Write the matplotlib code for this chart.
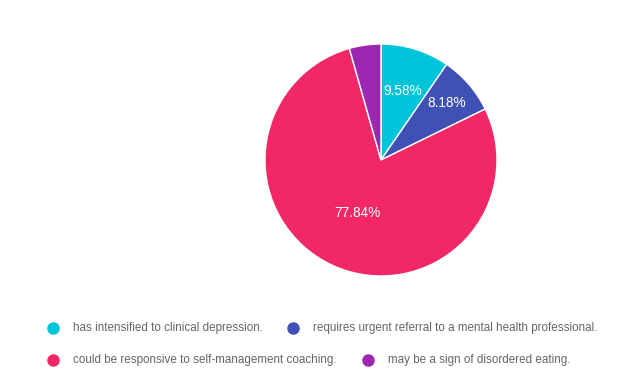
import numpy as np
import matplotlib
matplotlib.use("Agg")
import matplotlib.pyplot as plt
from matplotlib.lines import Line2D

plt.rcParams["font.family"] = ["Liberation Sans", "DejaVu Sans"]

labels = ["has intensified to clinical depression.",
          "requires urgent referral to a mental health professional.",
          "could be responsive to self-management coaching.",
          "may be a sign of disordered eating."]
shares = [9.58, 8.18, 77.84, 4.40]
colors = ["#00C5DA", "#3F51B5", "#F22866", "#9C27B0"]

# radial placement of the percentage labels (fraction of radius)
label_r = [0.62, 0.75, 0.50, 0.6]

fig = plt.figure(figsize=(6.3, 3.89), dpi=100)
ax = fig.add_axes([265 / 630, 1 - 276 / 389, 232 / 630, 232 / 389])
wedges, _ = ax.pie(shares, colors=colors, startangle=90, counterclock=False,
                   wedgeprops=dict(edgecolor="white", linewidth=1))
ax.set_xlim(-1, 1)
ax.set_ylim(-1, 1)
ax.set_aspect("equal")

for w, v, r in zip(wedges, shares, label_r):
    if v < 5:
        continue
    mid = np.deg2rad((w.theta1 + w.theta2) / 2)
    ax.text(r * np.cos(mid), r * np.sin(mid), "%.2f%%" % v,
            color="white", fontsize=9.8, ha="center", va="center")

# legend laid out like the original (flowing rows)
legend_pos = [(53, 328), (293, 328), (53, 360), (368, 360)]
for (x, y), lab, c in zip(legend_pos, labels, colors):
    fig.lines.append(Line2D([x / 630], [1 - y / 389], marker="o",
                            markersize=8, color=c, linestyle="none",
                            transform=fig.transFigure))
    fig.text((x + 20) / 630, 1 - y / 389, lab, fontsize=8.4, color="#666666",
             ha="left", va="center")

fig.savefig("out.png", dpi=100, facecolor="white")
